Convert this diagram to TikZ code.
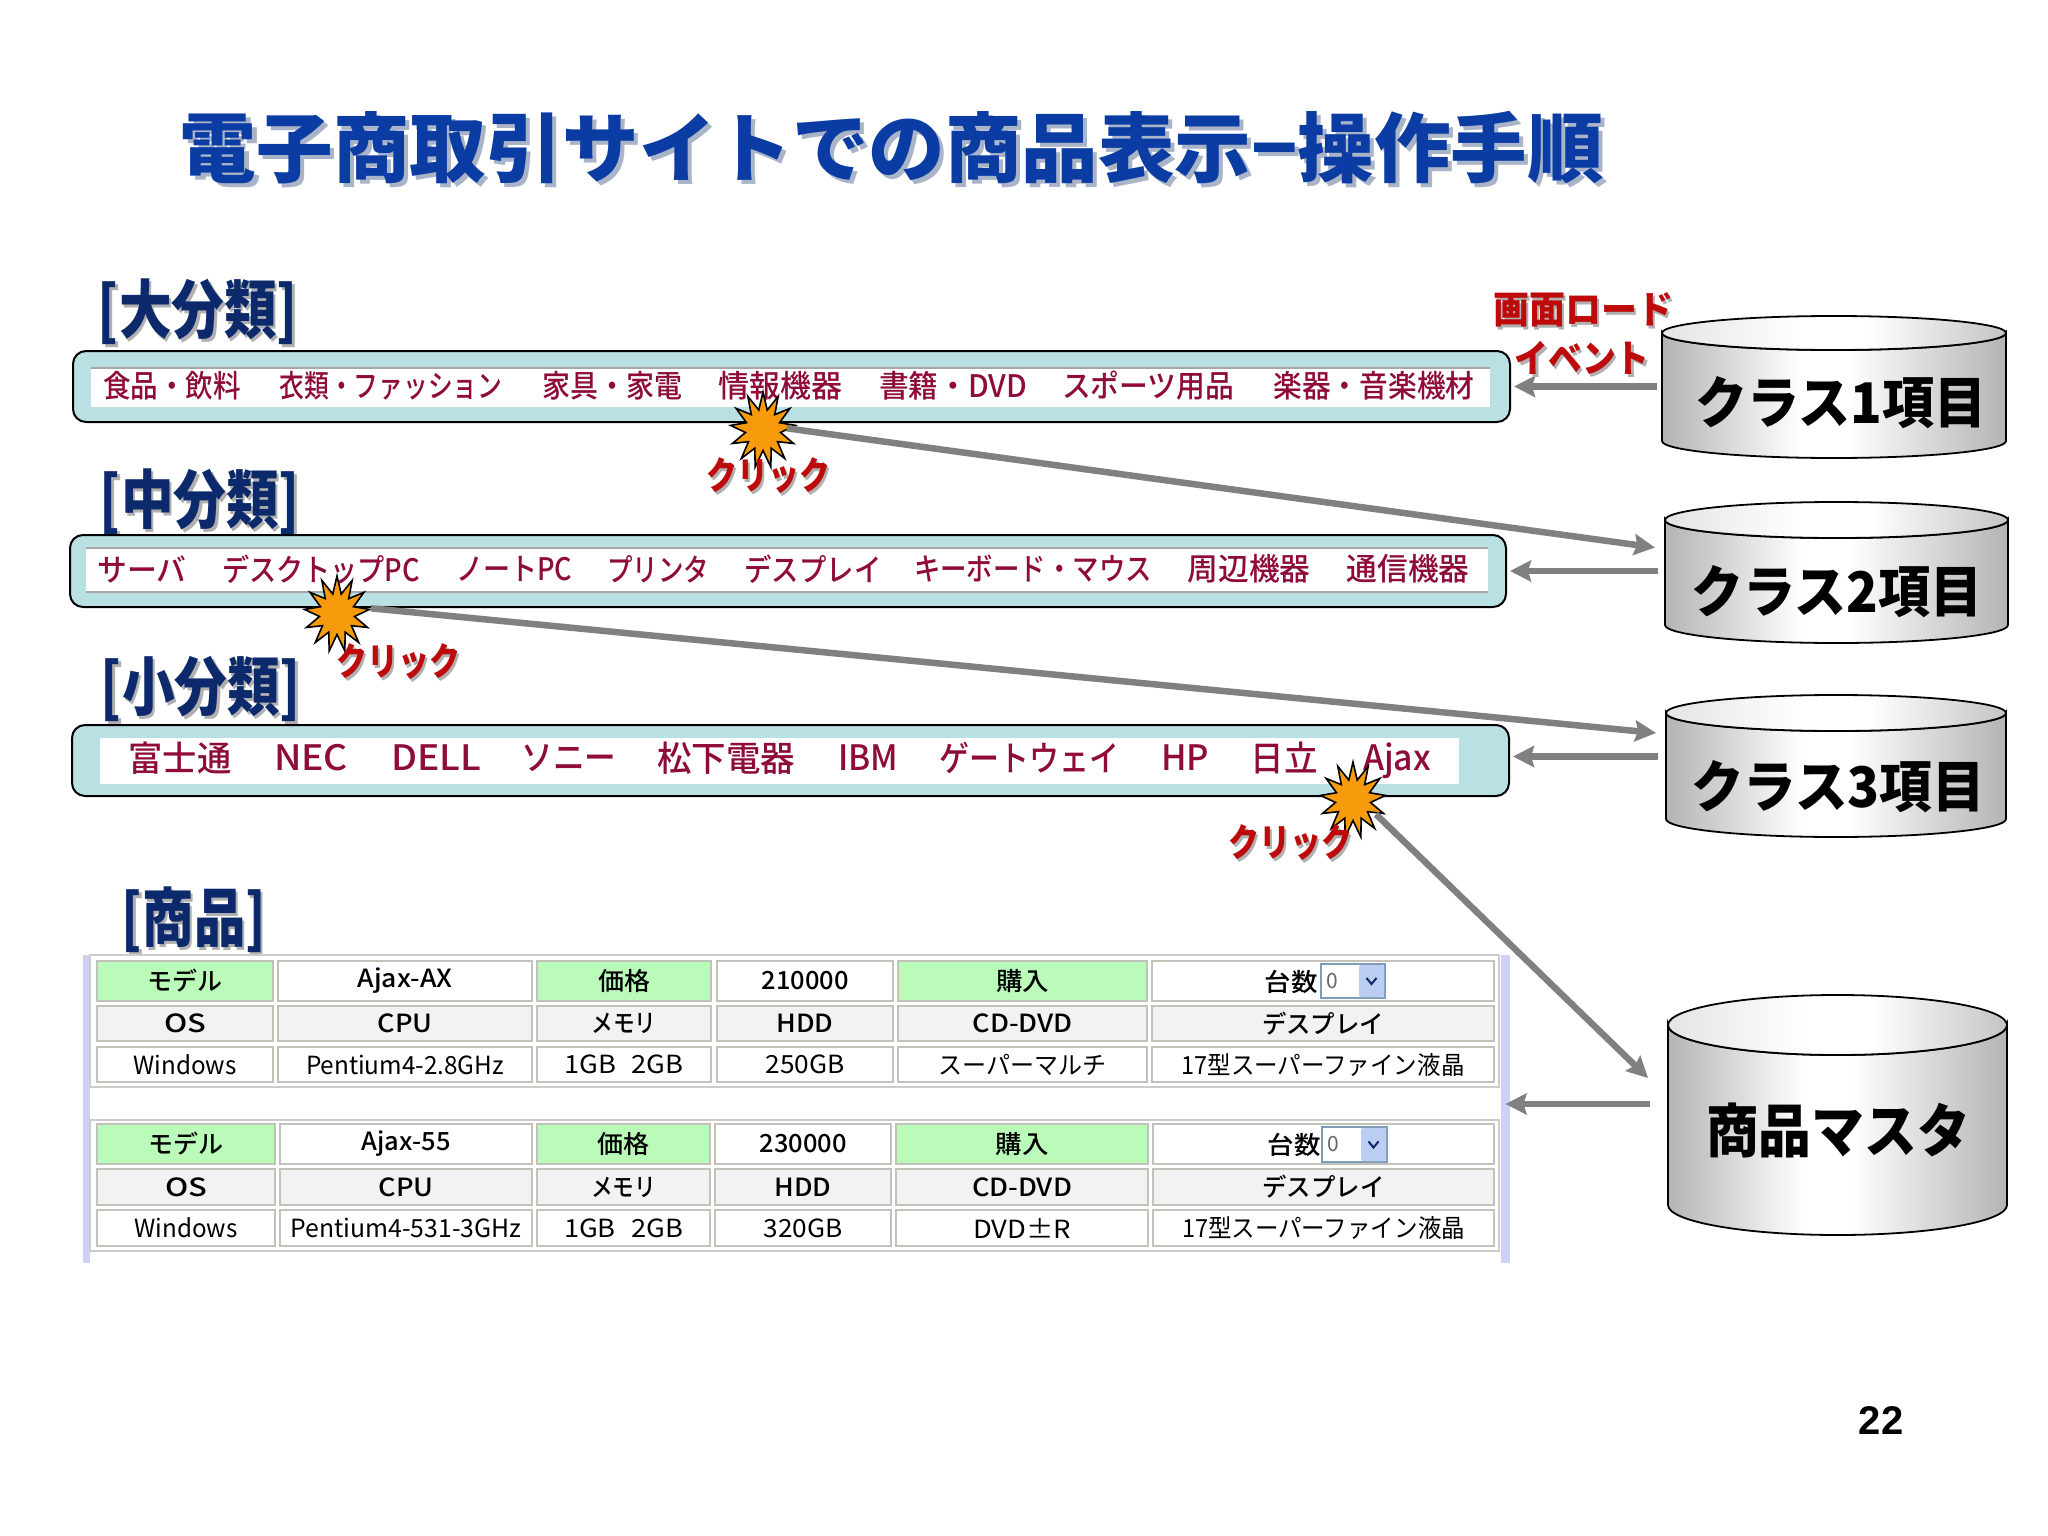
\documentclass[tikz,border=0pt]{standalone}
\usepackage{fontspec}
\usepackage{graphicx}
\usetikzlibrary{arrows.meta,shapes.geometric,calc}
\setmainfont{Noto Sans CJK JP}
\newfontfamily\heavy{Noto Sans CJK JP Black}
\newfontfamily\medium{Noto Sans CJK JP Medium}
\newfontfamily\latinb{Liberation Sans}
\definecolor{titleblue}{HTML}{0B3CA3}
\definecolor{titleshadow}{HTML}{A9B4C8}
\definecolor{navy}{HTML}{0C2A6B}
\definecolor{softshadow}{HTML}{B0B0B0}
\definecolor{itemred}{HTML}{8E0B3A}
\definecolor{clickred}{HTML}{BE0A0A}
\definecolor{barfill}{HTML}{B9E0E2}
\definecolor{headgreen}{HTML}{BAFBBA}
\definecolor{cellgray}{HTML}{F2F2F2}
\definecolor{cellline}{HTML}{C2C2BA}
\definecolor{lav}{HTML}{CFD0F5}
\definecolor{arrowgray}{HTML}{808080}
\definecolor{burstfill}{HTML}{F79A0C}
\definecolor{selline}{HTML}{7F9DB9}
\definecolor{selbtn}{HTML}{BCCDF2}
\definecolor{cyledge}{HTML}{B4B4B4}
\definecolor{cyltopl}{HTML}{E4E4E4}
\definecolor{cyltopr}{HTML}{C4C4C4}
\pgfdeclarehorizontalshading{cylbody}{100bp}{color(0bp)=(cyledge); color(25bp)=(cyledge); color(45bp)=(white); color(52bp)=(white); color(75bp)=(cyledge); color(100bp)=(cyledge)}
\pgfdeclarehorizontalshading{cyltop}{100bp}{color(0bp)=(cyltopl); color(25bp)=(cyltopl); color(45bp)=(white); color(55bp)=(white); color(75bp)=(cyltopr); color(100bp)=(cyltopr)}
% fit text to a given width, keeping its height
\newcommand\fw[2]{\resizebox{#1pt}{\height}{#2}}
% text with a soft drop shadow in the same box
\newcommand\shd[3]{\makebox[0pt][l]{\raisebox{-#1pt}{\hspace{#1pt}\textcolor{#2}{#3}}}#3}
\tikzset{
  x=1pt,y=-1pt,
  txt/.style={inner sep=0pt,outer sep=0pt,anchor=center},
  item/.style={txt,text=itemred,font=\medium\fontsize{31}{31}\selectfont},
  itemb/.style={txt,text=itemred,font=\medium\fontsize{35}{35}\selectfont},
  head/.style={txt,text=navy,font=\bfseries\fontsize{64}{64}\selectfont},
  cyltext/.style={txt,text=black,font=\heavy\fontsize{56}{56}\selectfont},
  clicktext/.style={txt,text=clickred,font=\heavy\fontsize{38}{38}\selectfont},
  bar/.style={draw=black,line width=2pt,fill=barfill,rounded corners=13pt,inner sep=0pt,outer sep=0pt},
  barin/.style={fill=white,inner sep=0pt,outer sep=0pt},
  greyline/.style={draw=gray!70,line width=1.6pt},
  conn/.style={draw=arrowgray,line width=6.5pt,-{Stealth[length=21pt,width=21pt,inset=3pt]}},
  burst/.style={star,star points=13,star point ratio=1.85,draw=black,line width=1.6pt,fill=burstfill,inner sep=0pt,minimum size=76pt,xscale=.86},
  cellbase/.style={draw=cellline,line width=1.3pt,inner sep=0pt,outer sep=0pt,text=black,font=\medium\fontsize{25}{25}\selectfont},
  gc/.style={cellbase,fill=headgreen},
  wc/.style={cellbase,fill=white},
  sc/.style={cellbase,fill=cellgray},
  tc/.style={cellbase,fill=white,font=\rmfamily\fontsize{25}{25}\selectfont},
  cylbox/.style={inner sep=0pt,outer sep=0pt},
  selbox/.style={draw=selline,line width=1.3pt,fill=white,inner sep=0pt},
  selb/.style={fill=selbtn,inner sep=0pt,rounded corners=1.5pt},
  seltxt/.style={txt,text=black!60,font=\fontsize{21}{21}\selectfont},
  seltip/.style={draw=navy,line width=2pt},
}
\newcommand\cell[7]{%
  \pgfmathsetmacro\cw{#3-#2}\pgfmathsetmacro\ch{#5-#4}%
  \node[#6,minimum width=\cw pt,minimum height=\ch pt] (#1) at ({(#2+#3)/2},{(#4+#5)/2}) {#7};}
\newcommand\dbcyl[6]{% name x0 x1 top bottom ry
  \pgfmathsetmacro\rw{(#3-#2)/2}\pgfmathsetmacro\cyt{#4+#6}\pgfmathsetmacro\cyb{#5-#6}%
  \path[shade,shading=cylbody,draw=black,line width=1.8pt]
    (#2,\cyb) arc[start angle=180,end angle=360,x radius=\rw pt,y radius=#6 pt]
    -- (#3,\cyt) arc[start angle=0,end angle=-180,x radius=\rw pt,y radius=#6 pt] -- cycle;
  \path[shade,shading=cyltop,draw=black,line width=1.8pt]
    ({(#2+#3)/2},\cyt) ellipse[x radius=\rw pt,y radius=#6 pt];
  \cell{#1}{#2}{#3}{#4}{#5}{cylbox}{}}
\begin{document}
\begin{tikzpicture}
\useasboundingbox (0,0) rectangle (2048,1536);
\fill[white] (0,0) rectangle (2048,1536);

% title
\node[txt,text=titleblue,font=\bfseries\fontsize{76}{76}\selectfont] (title) at (892,150)
  {\fw{1424}{\shd{4}{titleshadow}{電子商取引サイトでの商品表示−操作手順}}};

% section heads
\node[head] (h1) at (198,313) {\fw{200}{\shd{3}{softshadow}{[大分類]}}};
\node[head] (h2) at (200,503) {\fw{200}{\shd{3}{softshadow}{[中分類]}}};
\node[head] (h3) at (201,690) {\fw{200}{\shd{3}{softshadow}{[小分類]}}};
\node[head] (h4) at (194,921) {\fw{144}{\shd{3}{softshadow}{[商品]}}};

% bars
\cell{bar1}{73}{1510}{351}{422}{bar}{}
\cell{bar2}{70}{1506}{535}{607}{bar}{}
\cell{bar3}{72}{1509}{725}{796}{bar}{}
\cell{in1}{91}{1490}{368}{407}{barin}{}
\cell{in2}{86}{1488}{548}{592}{barin}{}
\cell{in3}{100}{1459}{738}{784}{barin}{}
\draw[greyline] (in1.north west) -- (in1.north east);
\draw[greyline] (in2.north west) -- (in2.north east);
\draw[greyline] (in2.south west) -- (in2.south east);

% bar 1 items
\node[item] (a1) at (172,386) {\fw{138}{食品・飲料}};
\node[item] (a2) at (391,386) {\fw{223}{衣類・ファッション}};
\node[item] (a3) at (612,386) {\fw{140}{家具・家電}};
\node[item] (a4) at (780,386) {\fw{124}{情報機器}};
\node[item] (a5) at (953,386) {\fw{148}{書籍・DVD}};
\node[item] (a6) at (1148,386) {\fw{172}{スポーツ用品}};
\node[item] (a7) at (1374,386) {\fw{201}{楽器・音楽機材}};
% bar 2 items
\node[item] (b1) at (142,569) {\fw{89}{サーバ}};
\node[item] (b2) at (321,569) {\fw{198}{デスクトップPC}};
\node[item] (b3) at (514,569) {\fw{116}{ノートPC}};
\node[item] (b4) at (658,569) {\fw{102}{プリンタ}};
\node[item] (b5) at (813,569) {\fw{137}{デスプレイ}};
\node[item] (b6) at (1033,569) {\fw{238}{キーボード・マウス}};
\node[item] (b7) at (1249,569) {\fw{123}{周辺機器}};
\node[item] (b8) at (1408,569) {\fw{123}{通信機器}};
% bar 3 items
\node[itemb] (c1i) at (180,758) {\fw{103}{富士通}};
\node[itemb] (c2i) at (311,758) {\fw{74}{NEC}};
\node[itemb] (c3i) at (436,758) {\fw{90}{DELL}};
\node[itemb] (c4i) at (569,758) {\fw{95}{ソニー}};
\node[itemb] (c5i) at (726,758) {\fw{138}{松下電器}};
\node[itemb] (c6i) at (868,758) {\fw{60}{IBM}};
\node[itemb] (c7i) at (1029,758) {\fw{180}{ゲートウェイ}};
\node[itemb] (c8i) at (1185,758) {\fw{48}{HP}};
\node[itemb] (c9i) at (1284,758) {\fw{67}{日立}};
\node[itemb] (c10i) at (1397,761) {\fw{68}{Ajax}};

% table frame
\cell{lavl}{83}{90}{955}{1263}{fill=lav,inner sep=0pt}{}
\cell{lavr}{1501}{1510}{955}{1263}{fill=lav,inner sep=0pt}{}
\cell{tbl}{90}{1501}{955}{1263}{inner sep=0pt}{}
\cell{t1}{90}{1499}{955}{1087}{draw=gray!40,line width=1.5pt,fill=white,inner sep=0pt}{}
\cell{t2}{90}{1499}{1120}{1251}{draw=gray!40,line width=1.5pt,fill=white,inner sep=0pt}{}

% table 1
\cell{p11}{97}{273}{961}{1001}{gc}{\fw{75}{モデル}}
\cell{p12}{278}{532}{961}{1001}{wc}{\raisebox{-2pt}{\fw{95}{Ajax-AX}}}
\cell{p13}{537}{711}{961}{1001}{gc}{\fw{52}{価格}}
\cell{p14}{717}{893}{961}{1001}{wc}{\fw{87}{210000}}
\cell{p15}{898}{1147}{961}{1001}{gc}{\fw{53}{購入}}
\cell{p16}{1152}{1494}{961}{1001}{wc}{}
\cell{p21}{97}{273}{1006}{1041}{sc}{\fw{42}{OS}}
\cell{p22}{278}{532}{1006}{1041}{sc}{\fw{55}{CPU}}
\cell{p23}{537}{711}{1006}{1041}{sc}{\fw{65}{メモリ}}
\cell{p24}{717}{893}{1006}{1041}{sc}{\fw{57}{HDD}}
\cell{p25}{898}{1147}{1006}{1041}{sc}{\fw{100}{CD-DVD}}
\cell{p26}{1152}{1494}{1006}{1041}{sc}{\fw{122}{デスプレイ}}
\cell{p31}{97}{273}{1047}{1082}{tc}{\fw{103}{Windows}}
\cell{p32}{278}{532}{1047}{1082}{tc}{\fw{198}{Pentium4-2.8GHz}}
\cell{p33}{537}{711}{1047}{1082}{tc}{\fw{119}{1GB\hspace{14pt}2GB}}
\cell{p34}{717}{893}{1047}{1082}{tc}{\fw{79}{250GB}}
\cell{p35}{898}{1147}{1047}{1082}{tc}{\fw{168}{スーパーマルチ}}
\cell{p36}{1152}{1494}{1047}{1082}{tc}{\fw{283}{17型スーパーファイン液晶}}
\node[txt,font=\medium\fontsize{25}{25}\selectfont] (n1) at (1291,982) {\fw{53}{台数}};
\cell{s1}{1321}{1385}{964}{998}{selbox}{}
\cell{s1b}{1359}{1384}{965}{997}{selb}{}
\node[seltxt] (s1t) at (1332,981) {0};
\draw[seltip] ($(s1b.center)+(-5,-3)$) -- ($(s1b.center)+(0,3)$) -- ($(s1b.center)+(5,-3)$);

% table 2
\cell{q11}{97}{275}{1124}{1164}{gc}{\fw{75}{モデル}}
\cell{q12}{280}{532}{1124}{1164}{wc}{\raisebox{-2pt}{\fw{89}{Ajax-55}}}
\cell{q13}{537}{710}{1124}{1164}{gc}{\fw{52}{価格}}
\cell{q14}{715}{891}{1124}{1164}{wc}{\fw{87}{230000}}
\cell{q15}{896}{1148}{1124}{1164}{gc}{\fw{53}{購入}}
\cell{q16}{1153}{1494}{1124}{1164}{wc}{}
\cell{q21}{97}{275}{1169}{1205}{sc}{\fw{42}{OS}}
\cell{q22}{280}{532}{1169}{1205}{sc}{\fw{55}{CPU}}
\cell{q23}{537}{710}{1169}{1205}{sc}{\fw{65}{メモリ}}
\cell{q24}{715}{891}{1169}{1205}{sc}{\fw{57}{HDD}}
\cell{q25}{896}{1148}{1169}{1205}{sc}{\fw{100}{CD-DVD}}
\cell{q26}{1153}{1494}{1169}{1205}{sc}{\fw{122}{デスプレイ}}
\cell{q31}{97}{275}{1210}{1246}{tc}{\fw{103}{Windows}}
\cell{q32}{280}{532}{1210}{1246}{tc}{\fw{231}{Pentium4-531-3GHz}}
\cell{q33}{537}{710}{1210}{1246}{tc}{\fw{119}{1GB\hspace{14pt}2GB}}
\cell{q34}{715}{891}{1210}{1246}{tc}{\fw{79}{320GB}}
\cell{q35}{896}{1148}{1210}{1246}{tc}{\fw{98}{DVD±R}}
\cell{q36}{1153}{1494}{1210}{1246}{tc}{\fw{283}{17型スーパーファイン液晶}}
\node[txt,font=\medium\fontsize{25}{25}\selectfont] (n2) at (1294,1145) {\fw{53}{台数}};
\cell{s2}{1322}{1387}{1127}{1162}{selbox}{}
\cell{s2b}{1361}{1386}{1128}{1161}{selb}{}
\node[seltxt] (s2t) at (1333,1144) {0};
\draw[seltip] ($(s2b.center)+(-5,-3)$) -- ($(s2b.center)+(0,3)$) -- ($(s2b.center)+(5,-3)$);

% cylinders
\dbcyl{c1}{1662}{2006}{316}{458}{17}
\dbcyl{c2}{1665}{2008}{502}{643}{18}
\dbcyl{c3}{1666}{2006}{695}{837}{18}
\dbcyl{c4}{1668}{2007}{995}{1235}{30}
\node[cyltext] (c1t) at (1841,403) {\fw{291}{クラス1項目}};
\node[cyltext] (c2t) at (1837,592) {\fw{291}{クラス2項目}};
\node[cyltext] (c3t) at (1838,787) {\fw{294}{クラス3項目}};
\node[cyltext,font=\heavy\fontsize{58}{58}\selectfont] (c4t) at (1838,1130) {\fw{264}{商品マスタ}};

% bursts
\node[burst] (k1) at (763,430) {};
\node[burst] (k2) at (337,614) {};
\node[burst] (k3) at (1353,800) {};

% connectors
\draw[conn,shorten <=5pt,shorten >=4pt] (c1.west |- bar1.east) -- (bar1.east);
\draw[conn,shorten <=7pt,shorten >=4pt] (c2.west |- bar2.east) -- (bar2.east);
\draw[conn,shorten <=8pt,shorten >=4pt] ([yshift=4pt]c3.west |- bar3.east) -- ([yshift=4pt]bar3.east);
\draw[conn,shorten <=18pt] ([yshift=5pt]c4.west |- tbl.east) -- ([yshift=5pt]lavr.center);
\draw[conn,shorten <=24pt] ([yshift=5pt]k1.center) -- ([xshift=-10pt,yshift=25pt]c2.west);
\draw[conn,shorten <=34pt] ([yshift=9pt]k2.center) -- ([xshift=-10pt,yshift=33pt]c3.west);
\draw[conn,shorten <=32pt] ([yshift=8pt]k3.center) -- ([xshift=-20pt,yshift=37pt]c4.west);

% labels
\node[clicktext] (l1) at (768,477) {\fw{124}{\shd{3}{softshadow}{クリック}}};
\node[clicktext] (l2) at (398,663) {\fw{124}{\shd{3}{softshadow}{クリック}}};
\node[clicktext] (l3) at (1290,844) {\fw{124}{\shd{3}{softshadow}{クリック}}};
\node[clicktext] (e1) at (1583,311) {\fw{180}{\shd{3}{softshadow}{画面ロード}}};
\node[clicktext] (e2) at (1582,359) {\fw{135}{\shd{3}{softshadow}{イベント}}};

% page number
\node[txt,text=black,font=\latinb\bfseries\fontsize{40}{40}\selectfont] (pg) at (1881,1421) {22};
\end{tikzpicture}
\end{document}
